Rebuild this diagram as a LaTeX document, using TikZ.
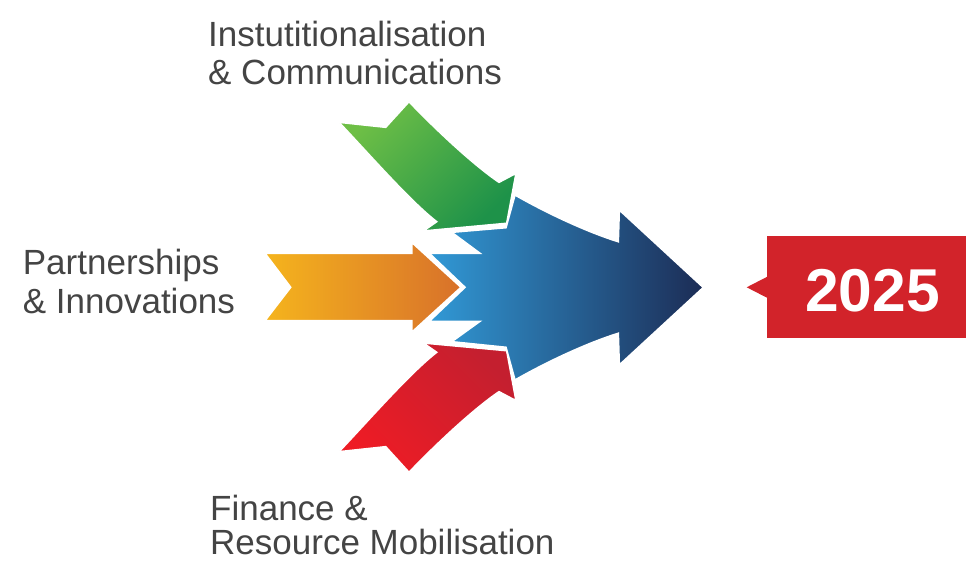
\documentclass[tikz,border=0pt]{standalone}
\usepackage{fontspec}
\setmainfont{Liberation Sans}
\begin{document}
\definecolor{labelgray}{HTML}{444444}
\definecolor{blueL}{HTML}{3199D6}
\definecolor{blueR}{HTML}{1C2C55}
\definecolor{greenL}{HTML}{6EBF46}
\definecolor{greenD}{HTML}{1E9249}
\definecolor{redL}{HTML}{EE1C25}
\definecolor{redD}{HTML}{C41F2F}
\definecolor{orangeL}{HTML}{F5B41D}
\definecolor{orangeR}{HTML}{D8712A}
\definecolor{boxred}{HTML}{D2232A}
\begin{tikzpicture}[x=1pt,y=-1pt,
  label/.style={anchor=base west, inner sep=0pt, text=labelgray, text depth=0pt,
    font=\fontsize{35}{38}\selectfont},
  arrowshape/.style={draw=white, line width=1.6pt, line join=miter}]
\useasboundingbox (0,0) rectangle (966,561);

% orange arrow (Partnerships & Innovations)
\shadedraw[arrowshape, left color=orangeL, right color=orangeR]
  (265,253.3) -- (411.7,253.3) -- (411.7,242.3) -- (461,287.3)
  -- (411.7,332.3) -- (411.7,320.7) -- (265,320.7) -- (290.7,287.3) -- cycle;

% green arrow (Institutionalisation & Communications)
\shadedraw[arrowshape, top color=greenL, bottom color=greenD, shading angle=45]
  (339,122.3) -- (385.7,127.3) -- (409,101.7)
  .. controls (439,133) and (475,166) .. (499,182.3)
  -- (516,173.3) -- (506.7,223.3) -- (423.3,231) -- (436.7,221.7)
  .. controls (410,201) and (370,155) .. cycle;

% red arrow (Finance & Resource Mobilisation)
\shadedraw[arrowshape, top color=redD, bottom color=redL, shading angle=-45]
  (339,451.7) -- (385.7,446.7) -- (409,472.3)
  .. controls (439,441) and (475,408) .. (499,391.7)
  -- (516,400.7) -- (506.7,350.7) -- (423.3,343) -- (436.7,352.3)
  .. controls (410,373) and (370,419) .. cycle;

% central blue arrow
\shadedraw[arrowshape, left color=blueL, right color=blueR]
  (515,195) .. controls (550,215) and (590,233) .. (618.3,241.7)
  -- (619.3,210) -- (703.3,287.5) -- (619.3,365) -- (618.3,333.3)
  .. controls (590,342) and (550,360) .. (515,380)
  -- (506,347.3) -- (451.7,341.7) -- (480,321.3) -- (429.3,321.3)
  -- (465,287.3) -- (429.3,253.3) -- (480,253.3) -- (451.7,232.3)
  -- (506,227.7) -- cycle;

% target year tag
\fill[boxred] (767.3,236) rectangle (966,338.3);
\fill[boxred] (767.3,276.7) -- (746.7,287.3) -- (767.3,297.9) -- cycle;
\node[anchor=base, inner sep=0pt, text=white,
  font=\fontsize{60.5}{60.5}\selectfont\bfseries] (year) at (872.5,311.7) {2025};

% labels
\node[label] (inst1) at (208,46.7) {Instutitionalisation};
\node[label] (inst2) at (208,85) {\& Communications};
\node[label] (part1) at (22.7,275) {Partnerships};
\node[label] (part2) at (22.7,313.3) {\& Innovations};
\node[label] (fin1) at (210,520) {Finance \&};
\node[label] (fin2) at (210,554) {Resource Mobilisation};
\end{tikzpicture}
\end{document}
